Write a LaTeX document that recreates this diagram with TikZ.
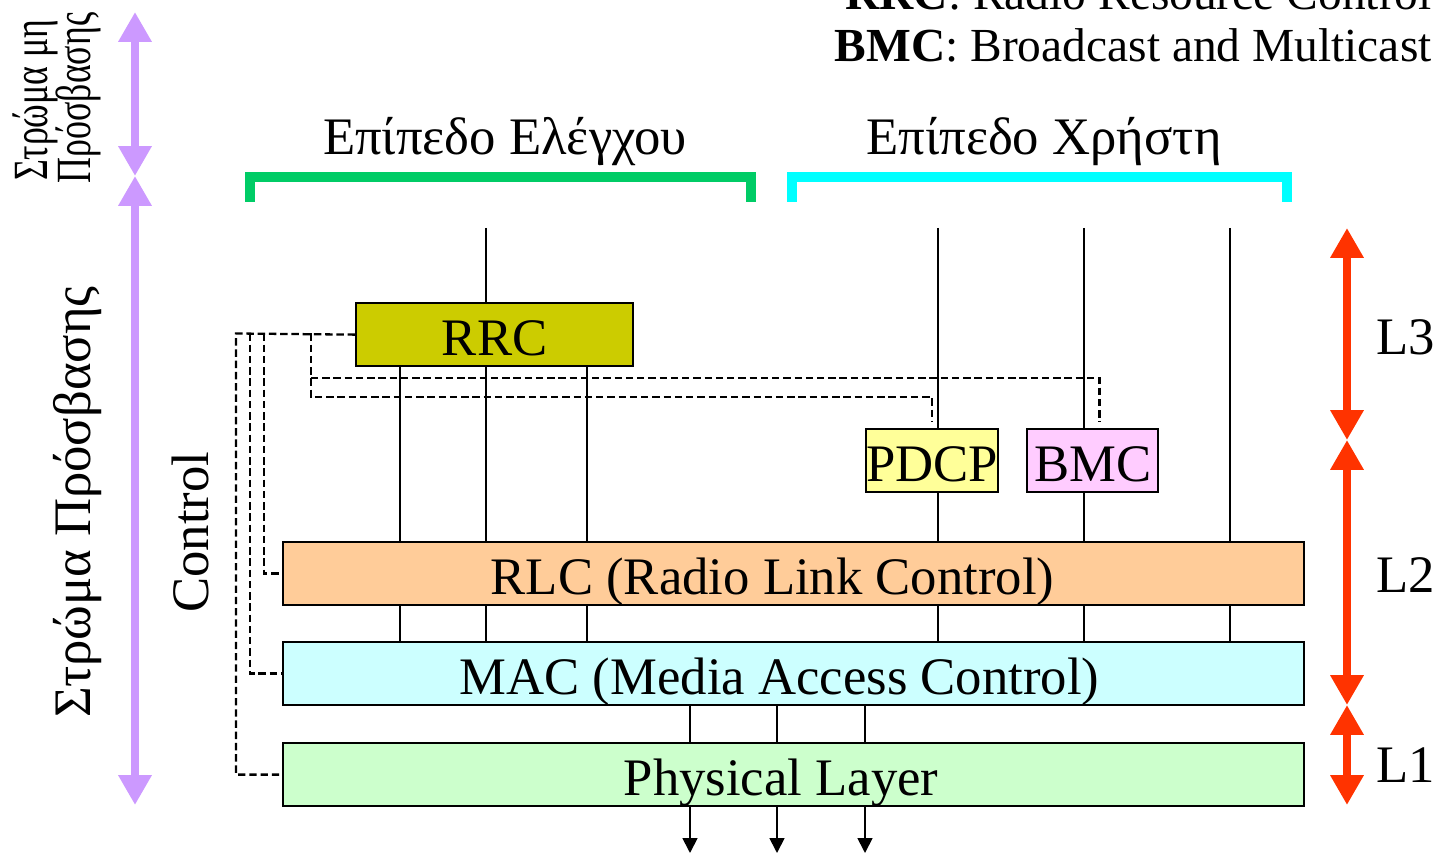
\documentclass[tikz,border=0pt]{standalone}
\usepackage{fontspec}
\setmainfont{Liberation Serif}
\usepackage{xcolor}
\usetikzlibrary{arrows.meta,positioning}
\definecolor{rrcfill}{HTML}{CCCC00}
\definecolor{pdcpfill}{HTML}{FFFF99}
\definecolor{bmcfill}{HTML}{FFCCFF}
\definecolor{rlcfill}{HTML}{FFCC99}
\definecolor{macfill}{HTML}{CCFFFF}
\definecolor{phyfill}{HTML}{CCFFCC}
\definecolor{lilac}{HTML}{CC99FF}
\definecolor{layerred}{HTML}{FF3300}
\definecolor{ctrlgreen}{HTML}{00CC66}
\definecolor{usercyan}{HTML}{00FFFF}

\begin{document}
\begin{tikzpicture}[
  x=0.02cm, y=-0.02cm,
  big/.style={font=\fontsize{30}{36}\selectfont},
  legend/.style={font=\fontsize{27}{32}\selectfont, anchor=base east, inner sep=0pt},
  box/.style={draw, line width=1.3pt, anchor=north west, inner sep=0pt, big,
              minimum height=1.26cm, text height=24pt, text depth=0pt},
  wide/.style={box, minimum width=20.42cm},
  link/.style={line width=1pt},
  ctl/.style={line width=1.3pt, dash pattern=on 4.2pt off 2.2pt},
  span/.style={line width=4.5pt,
               {Triangle[width=18pt,length=17pt]}-{Triangle[width=18pt,length=17pt]}},
  brk/.style={line width=5.5pt},
  down/.style={link, -{Triangle[width=8.5pt,length=8.5pt]}}
]
\useasboundingbox (0,0) rectangle (1437,854);

% legend
\node[legend] (leg1) at (1432,10) {\textbf{RRC}: Radio Resource Control};
\node[legend] (leg2) at (1432,62) {\textbf{BMC}: Broadcast and Multicast};

% strata on the left
\node[font=\fontsize{28}{34}\selectfont, rotate=90, anchor=base] (nas1) at (47,100)
  {\scalebox{0.73}[1]{Στρώμα μη}};
\node[font=\fontsize{28}{34}\selectfont, rotate=90, anchor=base] (nas2) at (90,98)
  {\scalebox{0.73}[1]{Πρόσβασης}};
\node[big, rotate=90, anchor=base] (as) at (90,502) {Στρώμα Πρόσβασης};
\node[big, rotate=90, anchor=base] (ctrl) at (208,532) {Control};
\coordinate (pu1) at (135,12);
\coordinate (pu2) at (135,176);
\coordinate (pu3) at (135,805);
\draw[span, lilac] (pu1) -- (pu2);
\draw[span, lilac] (pu2) -- (pu3);

% planes
\node[big, anchor=base] (cplane) at (505,155) {Επίπεδο Ελέγχου};
\node[big, anchor=base] (uplane) at (1044,155) {Επίπεδο Χρήστη};
\draw[brk, ctrlgreen] (250,202) |- (751,177) -- (751,202);
\draw[brk, usercyan] (792,202) |- (1287,177) -- (1287,202);

% protocol boxes
\node[box, fill=rrcfill, minimum width=5.54cm] (rrc) at (355,302) {RRC};
\node[box, fill=pdcpfill, minimum width=2.64cm] (pdcp) at (865,428) {PDCP};
\node[box, fill=bmcfill, minimum width=2.62cm] (bmc) at (1026,428) {BMC};
\node[wide, fill=rlcfill] (rlc) at (282,541) {RLC (Radio Link Control)\hspace*{0.84cm}};
\node[wide, fill=macfill] (mac) at (282,641) {MAC (Media Access Control)\hspace*{0.56cm}};
\node[wide, fill=phyfill] (phy) at (282,742) {Physical Layer\hspace*{0.5cm}};

% channels
\foreach \x in {400,486,587,690,777,865,938,1084,1230}
  \coordinate (c\x) at (\x,228);
\coordinate (bot) at (0,853);
\draw[link] (c486) -- (rrc.north -| c486);
\draw[link] (c938) -- (pdcp.north -| c938);
\draw[link] (c1084) -- (bmc.north -| c1084);
\draw[link] (c1230) -- (rlc.north -| c1230);
\foreach \x in {400,486,587}
  \draw[link] (rrc.south -| c\x) -- (rlc.north -| c\x);
\draw[link] (pdcp.south -| c938) -- (rlc.north -| c938);
\draw[link] (bmc.south -| c1084) -- (rlc.north -| c1084);
\foreach \x in {400,486,587,938,1084,1230}
  \draw[link] (rlc.south -| c\x) -- (mac.north -| c\x);
\foreach \x in {690,777,865} {
  \draw[link] (mac.south -| c\x) -- (phy.north -| c\x);
  \draw[down] (phy.south -| c\x) -- (c\x |- bot);
}

% control paths
\coordinate (dA) at (236,333.5);
\coordinate (dB) at (250,333.5);
\coordinate (dC) at (264,333.5);
\coordinate (dD) at (311,333.5);
\draw[ctl] (rrc.west) -- (dA) |- (phy.west);
\draw[ctl] (dB) |- (mac.west);
\draw[ctl] (dC) |- (rlc.west);
\draw[ctl] (dD) -- ++(0,63.5) -| ([yshift=0.12cm]pdcp.north);
\draw[ctl] ([yshift=-0.89cm]dD) -| ([xshift=0.14cm,yshift=0.12cm]bmc.north);

% layers on the right
\coordinate (ly1) at (1347,228);
\coordinate (ly2) at (1347,440);
\coordinate (ly3) at (1347,705);
\coordinate (ly4) at (1347,805);
\draw[span, layerred] (ly1) -- (ly2);
\draw[span, layerred] (ly2) -- (ly3);
\draw[span, layerred] (ly3) -- (ly4);
\node[big, anchor=base west] (l3) at (1370,355) {L3};
\node[big, anchor=base west] (l2) at (1370,593) {L2};
\node[big, anchor=base west] (l1) at (1370,782) {L1};
\end{tikzpicture}
\end{document}
